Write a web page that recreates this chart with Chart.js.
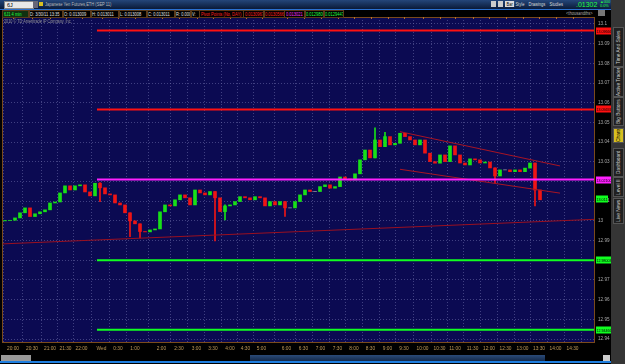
<!DOCTYPE html>
<html><head><meta charset="utf-8">
<script src="https://cdn.jsdelivr.net/npm/chart.js@4"></script>
<style>
html,body{margin:0;padding:0;background:#000;width:625px;height:364px;overflow:hidden;font-family:"Liberation Sans",Arial,sans-serif;}
#c{position:absolute;left:0;top:0;}
.ov{position:absolute;white-space:nowrap;}
#topbar{left:0;top:0;width:611px;height:9px;background:linear-gradient(#24467a,#0a1a38);border-bottom:1px solid #2a70d0;}
#hdr{left:0;top:10px;width:611px;height:7px;background:#000;}
.hb{position:absolute;top:0;height:6px;border:1px solid #5a3a1a;font-size:5.3px;line-height:6px;color:#e0e0e0;padding:0 1px;overflow:hidden;}
.hb span,.sq{display:inline-block;transform:scaleX(0.76);transform-origin:0 50%;}
#side{left:611px;top:0;width:14px;height:364px;background:#353535;}
.tab{position:absolute;left:2px;width:9px;writing-mode:vertical-rl;transform:rotate(180deg);font-size:4.8px;color:#ccc;background:#202020;border:1px solid #555;text-align:center;line-height:9px;overflow:hidden;}
#bot{left:0;top:355px;width:611px;height:6px;background:#000;border-bottom:2px solid #1f7fe0;}
</style></head>
<body>
<canvas id="c" width="625" height="364"></canvas>
<div class="ov" id="topbar">
  <div class="ov" style="left:4px;top:1px;width:26px;height:6px;background:#e8e8e8;border:1px solid #888;font-size:5.5px;line-height:6px;color:#000;padding-left:2px;">6J</div>
  <div class="ov" style="left:33px;top:1px;width:5px;height:7px;background:#667;"></div>
  <div class="ov" style="left:39px;top:2px;width:4px;height:4px;background:#d8c020;"></div>
  <div class="ov" style="left:45px;top:1px;font-size:5.3px;color:#bbb;line-height:7px;"><span class="sq">Japanese Yen Futures,ETH (SEP 11)</span></div>
  <div class="ov" style="left:491px;top:1px;width:5px;height:6px;background:#ccc;"></div>
  <div class="ov" style="left:498px;top:1px;width:5px;height:6px;background:#ccc;"></div>
  <div class="ov" style="left:505px;top:1px;font-size:5.3px;color:#ddd;line-height:7px;"><span class="sq"><span style="background:#ddd;color:#000;padding:0 2px">Bar</span> Style <span style="padding-left:4px">Drawings</span> <span style="padding-left:4px">Studies</span></span></div>
  <div class="ov" style="left:576px;top:0px;font-size:7px;color:#20ff40;line-height:9px;">.01302</div>
  <div class="ov" style="left:600px;top:0px;font-size:3.8px;color:#20ff40;line-height:4px;">▲000<br>0.0%</div>
</div>
<div class="ov" id="hdr">
  <div class="hb" style="left:2px;width:24px;color:#20ff40;background:#103010;"><span>6J1 4 min</span></div>
  <div class="hb" style="left:28px;width:32px;"><span>D: 3/30/11 13:35</span></div>
  <div class="hb" style="left:62px;width:26px;"><span>O: 0.013009</span></div>
  <div class="hb" style="left:90px;width:26px;"><span>H: 0.013011</span></div>
  <div class="hb" style="left:118px;width:26px;"><span>L: 0.013008</span></div>
  <div class="hb" style="left:146px;width:26px;"><span>C: 0.013011</span></div>
  <div class="hb" style="left:174px;width:14px;"><span>R: 0.0000</span></div>
  <div class="hb" style="left:190px;width:6px;"><span>V:</span></div>
  <div class="hb" style="left:199px;width:41px;color:#ff2020;"><span>Pivot Points (No, DAY)</span></div>
  <div class="hb" style="left:243px;width:18px;color:#ff2020;"><span>0.0130967</span></div>
  <div class="hb" style="left:263px;width:18px;color:#ff2020;"><span>0.0130566</span></div>
  <div class="hb" style="left:284px;width:18px;color:#ff30ff;"><span>0.013021</span></div>
  <div class="hb" style="left:304px;width:17px;color:#20ff40;"><span>0.0129800</span></div>
  <div class="hb" style="left:323px;width:17px;color:#20ff40;"><span>0.0129447</span></div>
  <div class="hb" style="left:565px;width:30px;border:none;color:#aaa;"><span>&lt;thousandths&gt;</span></div>
  <div class="ov" style="left:598px;top:0px;width:7px;height:6px;background:#777;"></div>
</div>
<div class="ov" style="left:4px;top:18px;font-size:5px;color:#999;z-index:2;"><span class="sq">2010 © TD Ameritrade IP Company, Inc.</span></div>
<div class="ov" id="side">
  <div class="tab" style="top:27px;height:38px;">Time And Sales</div>
  <div class="tab" style="top:67px;height:28px;">Active Trader</div>
  <div class="tab" style="top:97px;height:27px;">Big Buttons</div>
  <div class="tab" style="top:128px;height:13px;background:#d8c020;color:#000;">Charts</div>
  <div class="tab" style="top:148px;height:27px;">Dashboard</div>
  <div class="tab" style="top:177px;height:18px;">Level II</div>
  <div class="tab" style="top:198px;height:24px;">Live News</div>
</div>
<div class="ov" id="bot">
  <div class="ov" style="left:1px;top:0;width:30px;height:6px;background:#999;"></div>
  <div class="ov" style="left:250px;top:0;width:295px;height:6px;background:linear-gradient(#2a4a78,#14294a);"></div>
  <div class="ov" style="left:603px;top:0;width:7px;height:6px;background:#ccc;"></div>
</div>
<script>
// ---- data ----
const closes = [
13.0002, 13.0003, 13.0015, 13.0041, 13.0066, 13.0022, 13.0036, 13.0046, 13.0056, 13.0091,
13.0096, 13.0142, 13.0178, 13.0157, 13.0178, 13.0183, 13.0147, 13.0127, 13.0191, 13.0168,
13.0137, 13.0132, 13.0091, 13.0081, 13.0041, 13.0000, 12.9985, 12.9946, 12.9944, 12.9954,
12.9959, 13.0046, 13.0081, 13.0076, 13.0107, 13.0132, 13.0117, 13.0081, 13.0157, 13.0142,
13.0132, 13.0149, 13.0117, 13.0047, 13.0076, 13.0081, 13.0098, 13.0123, 13.0117, 13.0107,
13.0123, 13.0117, 13.0076, 13.0098, 13.0081, 13.0098, 13.0066, 13.0066, 13.0098, 13.0132,
13.0157, 13.0149, 13.0149, 13.0174, 13.0183, 13.0166, 13.0174, 13.0223, 13.0213, 13.0208,
13.0239, 13.0310, 13.0360, 13.0320, 13.0411, 13.0377, 13.0428, 13.0386, 13.0394, 13.0445,
13.0428, 13.0411, 13.0386, 13.0411, 13.0344, 13.0301, 13.0293, 13.0335, 13.0301, 13.0381,
13.0335, 13.0294, 13.0284, 13.0315, 13.0310, 13.0294, 13.0299, 13.0269, 13.0228, 13.0259,
13.0259, 13.0250, 13.0259, 13.0250, 13.0268, 13.0294, 13.0157, 13.0107
];
const firstOpen = 13.0000;
const lastPrice = 13.011;

// wick spikes: bar index, low, high
const spikeBars  = [19, 25, 27, 42, 44, 56, 74, 76, 98, 106];
const spikeLows  = [13.0098, 12.9920, 12.9914, 12.9898, 13.0005, 13.0022, 13.0320, 13.0377, 13.0191, 13.0076];
const spikeHighs = [13.0195, 13.0041, 12.9985, 13.0149, 13.0081, 13.0098, 13.0472, 13.0450, 13.0269, 13.0294];

const xTickLabels = ["20:00","20:30","21:00","21:30","22:00","Wed","0:30","1:00","2:00","2:30","3:00","3:30","4:00","4:30","5:00","6:00","6:30","7:00","7:30","8:00","8:30","9:00","9:30","10:00","10:30","11:00","11:30","12:00","12:30","13:00","13:30","14:00","14:30"];
const xTickBars   = [1.6,5.4,9.0,12.1,15.3,19.3,22.6,26.0,31.3,34.8,38.3,41.6,45.0,48.1,51.3,56.3,59.7,63.1,66.5,69.8,73.1,76.5,79.8,83.5,86.9,90.0,93.5,96.8,100.1,103.5,106.8,110.1,113.5];

const yTicks = [12.94,12.95,12.96,12.97,12.98,12.99,13.00,13.01,13.02,13.03,13.04,13.05,13.06,13.07,13.08,13.09,13.10];

const pivotNames  = ["R2","R1","PP","S1","S2"];
const pivotValues = [13.09666, 13.05659, 13.02100, 12.98003, 12.94466];
const pivotColors = ["#ff1010","#ff1010","#ff20ff","#10ff20","#10ff20"];
const pivotStartBar = 18.4;

const trendLineBars   = [-0.6, 118];
const trendLineValues = [12.9883, 13.0008];
const channelBars     = [79, 111];
const channelUpper    = [13.0453, 13.0279];
const channelLower    = [13.0262, 13.0141];

// ---- build ----
const candleData = closes.map((c,i)=>({x:i, y:[i===0?firstOpen:closes[i-1], c]}));
const colorOf = d => d.y[1]>d.y[0] ? "#18e018" : (d.y[1]<d.y[0] ? "#ee1515" : "#b0b0b0");
const candleColors = candleData.map(colorOf);
const wickData = spikeBars.map((b,i)=>({x:b, y:[spikeLows[i], spikeHighs[i]]}));
const wickColors = spikeBars.map(b=>candleColors[b]);

const FONT = "Liberation Sans";
const X_MIN = -0.6, X_MAX = 118;
const datasets = [
  {type:"bar", label:"wicks", data:wickData, backgroundColor:wickColors, borderWidth:0, barThickness:1, grouped:false, order:6},
  {type:"bar", label:"6J1", data:candleData, backgroundColor:candleColors, borderWidth:0, barThickness:3, grouped:false, order:5},
];
pivotValues.forEach((v,i)=>{
  datasets.push({type:"line", label:pivotNames[i], data:[{x:pivotStartBar,y:v},{x:X_MAX,y:v}], borderColor:pivotColors[i], borderWidth:2, pointRadius:0, order:1});
});
datasets.push({type:"line", label:"trend", data:trendLineBars.map((b,i)=>({x:b,y:trendLineValues[i]})), borderColor:"#9a1020", borderWidth:1, pointRadius:0, order:2});
datasets.push({type:"line", label:"chanU", data:channelBars.map((b,i)=>({x:b,y:channelUpper[i]})), borderColor:"#a81424", borderWidth:1, pointRadius:0, order:2});
datasets.push({type:"line", label:"chanL", data:channelBars.map((b,i)=>({x:b,y:channelLower[i]})), borderColor:"#a81424", borderWidth:1, pointRadius:0, order:2});

const deco = {
  id:"deco",
  beforeDraw(chart){
    const {ctx, chartArea:a} = chart;
    ctx.save();
    ctx.fillStyle="#000"; ctx.fillRect(0,0,chart.width,chart.height);
    ctx.fillStyle="#0b0a52"; ctx.fillRect(a.left,a.top,a.right-a.left,a.bottom-a.top);
    ctx.restore();
  },
  afterDraw(chart){
    const {ctx, chartArea:a, scales} = chart;
    ctx.save();
    ctx.strokeStyle="#7a4a1c"; ctx.lineWidth=1;
    ctx.strokeRect(a.left+0.5,a.top+0.5,a.right-a.left-1,a.bottom-a.top);
    ctx.strokeStyle="#b8702a";
    xTickBars.forEach(b=>{const x=Math.round(scales.x.getPixelForValue(b))+0.5; ctx.beginPath(); ctx.moveTo(x,a.top); ctx.lineTo(x,a.top+2); ctx.stroke();});
    ctx.font="4.4px '"+FONT+"'";
    ctx.textBaseline="middle";
    const boxes = pivotValues.map((v,i)=>({v, c:pivotColors[i], t:v.toFixed(5), w:16}));
    boxes.push({v:lastPrice, c:"#10ff20", t:lastPrice.toFixed(3), w:12});
    boxes.forEach(b=>{
      const y=Math.round(scales.y.getPixelForValue(b.v));
      ctx.fillStyle=b.c; ctx.fillRect(a.right+1,y-3.5,b.w,7);
      ctx.fillStyle="#000"; ctx.fillText(b.t,a.right+1.5,y+0.5,b.w-1);
    });
    ctx.restore();
  }
};

new Chart(document.getElementById("c"),{
  data:{datasets},
  options:{
    responsive:false, animation:false, devicePixelRatio:1,
    layout:{padding:{left:2,top:17,right:14,bottom:9}},
    plugins:{legend:{display:false},tooltip:{enabled:false}},
    scales:{
      x:{type:"linear", min:X_MIN, max:X_MAX, offset:false,
        afterBuildTicks(s){ s.ticks = xTickBars.map(v=>({value:v})); },
        afterFit(s){ s.height = 13; },
        ticks:{autoSkip:false, maxRotation:0, color:"#c09a5a", font:{size:4.8,family:FONT}, padding:4,
          callback:(v,i)=>xTickLabels[i]},
        grid:{color:"rgba(110,110,170,0.55)", drawTicks:false},
        border:{display:false, dash:[1,2]}
      },
      y:{type:"linear", position:"right", min:12.93848, max:13.10355,
        afterBuildTicks(s){ s.ticks = yTicks.map(v=>({value:v})); },
        afterFit(s){ s.width = 16; },
        ticks:{color:"#a8a8a8", font:{size:4.6,family:FONT}, padding:3,
          callback:(v)=>String(parseFloat(v.toFixed(2)))},
        grid:{color:"rgba(110,110,170,0.55)", drawTicks:false},
        border:{display:false, dash:[1,2]}
      }
    }
  },
  plugins:[deco]
});
</script>
</body></html>
